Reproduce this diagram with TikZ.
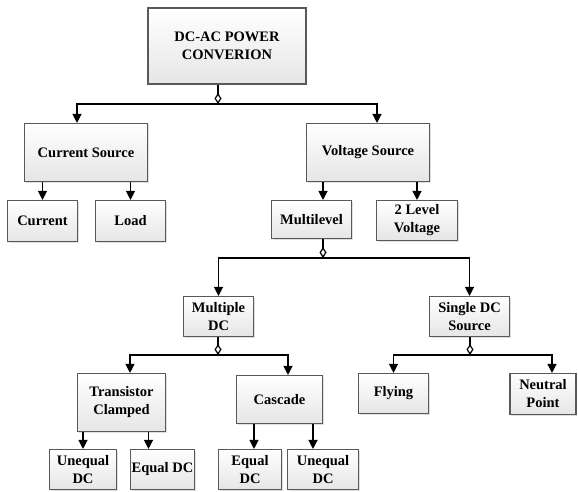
\documentclass[tikz,border=0pt]{standalone}
\usepackage{fontspec}
\setmainfont{Liberation Serif}
\usetikzlibrary{arrows.meta,shadows}
\tikzset{
  box/.style={draw=black!65, line width=1.1pt, top color=white, bottom color=black!10,
    align=center, font=\bfseries\fontsize{14.5}{18}\selectfont, inner sep=1pt,
    drop shadow={shadow xshift=1pt, shadow yshift=-1pt, opacity=0.25}},
  rootbox/.style={box, line width=2.2pt},
  arr/.style={-{Triangle[length=9pt,width=9pt]}, line width=1.2pt},
  dia/.style={-{Diamond[open,length=11pt,width=7pt]}, line width=1.2pt},
  link/.style={line width=1.2pt}
}
\begin{document}
\begin{tikzpicture}[x=1pt,y=-1pt]
      \useasboundingbox (0,0) rectangle (578,492);
      \node[rootbox, minimum width=158pt, minimum height=76pt] (root) at (227,46) {DC-AC POWER\\CONVERION};
      \node[box, minimum width=123pt, minimum height=58pt] (cur) at (86,152.5) {Current Source};
      \node[box, minimum width=123pt, minimum height=58pt] (volt) at (368,152.5) {Voltage Source};
      \node[box, minimum width=70pt, minimum height=41pt] (curr) at (42.5,221) {Current};
      \node[box, minimum width=70pt, minimum height=41pt] (load) at (130.5,221) {Load};
      \node[box, minimum width=80pt, minimum height=38pt] (multi) at (311.5,219.5) {Multilevel};
      \node[box, minimum width=81pt, minimum height=40pt] (twolvl) at (417,220.5) {2 Level\\Voltage};
      \node[box, minimum width=70pt, minimum height=40pt] (mdc) at (218.5,316.5) {Multiple\\DC};
      \node[box, minimum width=80pt, minimum height=40pt] (sdc) at (469.5,316.5) {Single DC\\Source};
      \node[box, minimum width=88pt, minimum height=58pt] (tc) at (121.5,402.5) {Transistor\\Clamped};
      \node[box, minimum width=86pt, minimum height=48pt] (casc) at (279.5,399.5) {Cascade};
      \node[box, minimum width=70pt, minimum height=40pt] (fly) at (393.5,393.5) {Flying};
      \node[box, minimum width=66pt, minimum height=41pt] (np) at (543,394) {Neutral\\Point};
      \node[box, minimum width=67pt, minimum height=40pt] (ud1) at (83,469.5) {Unequal\\DC};
      \node[box, minimum width=64pt, minimum height=40pt] (ed1) at (162.5,469.5) {Equal DC};
      \node[box, minimum width=63pt, minimum height=40pt] (ed2) at (250,469.5) {Equal\\DC};
      \node[box, minimum width=71pt, minimum height=40pt] (ud2) at (323,469.5) {Unequal\\DC};
      \coordinate (j0) at (218,104);
      \coordinate (j1) at (323,258);
      \coordinate (j2) at (218,355);
      \coordinate (j3) at (470,355);
      \begin{scope}[link]
        \draw[dia] (root.south -| j0) -- (j0);
        \draw[arr] (j0) -| ([xshift=-9pt]cur.north);
        \draw[arr] (j0) -| ([xshift=9pt]volt.north);
        \draw[arr] (curr.north |- cur.south) -- (curr.north);
        \draw[arr] (load.north |- cur.south) -- (load.north);
        \draw[arr] (volt.south -| j1) -- (multi.north -| j1);
        \draw[arr] (twolvl.north |- volt.south) -- (twolvl.north);
        \draw[dia] (multi.south -| j1) -- (j1);
        \draw[arr] (j1) -| (mdc.north);
        \draw[arr] (j1) -| (sdc.north);
        \draw[dia] (mdc.south -| j2) -- (j2);
        \draw[arr] (j2) -| ([xshift=8.5pt]tc.north);
        \draw[arr] (j2) -| ([xshift=8.5pt]casc.north);
        \draw[dia] (sdc.south -| j3) -- (j3);
        \draw[arr] (j3) -| (fly.north);
        \draw[arr] (j3) -| ([xshift=9pt]np.north);
        \draw[arr] (ud1.north |- tc.south) -- (ud1.north);
        \draw[arr] ([xshift=-14pt]ed1.north |- tc.south) -- ([xshift=-14pt]ed1.north);
        \draw[arr] ([xshift=4pt]ed2.north |- casc.south) -- ([xshift=4pt]ed2.north);
        \draw[arr] ([xshift=-10pt]ud2.north |- casc.south) -- ([xshift=-10pt]ud2.north);
      \end{scope}
    \end{tikzpicture}
\end{document}
